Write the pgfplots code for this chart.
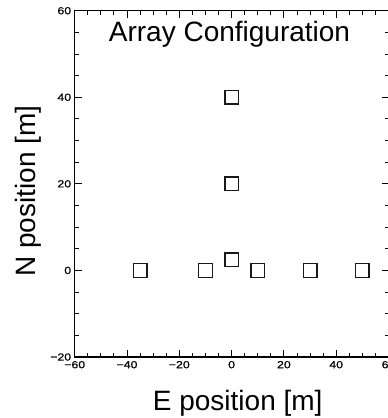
\documentclass[border=0pt]{standalone}
\usepackage{fontspec}
\setmainfont{Liberation Sans}
\newfontfamily\tickfont[FakeStretch=1.2, FakeBold=0.6]{Liberation Sans}
\usepackage{pgfplots}
\pgfplotsset{compat=1.18}
\begin{document}
\begin{tikzpicture}
\begin{axis}[
  name=ax,
  at={(0,0)}, anchor=south west,
  scale only axis,
  width=313.8pt, height=346.3pt,
  xmin=-60, xmax=60, ymin=-20, ymax=60,
  xtick={-60,-40,-20,0,20,40,60},
  xticklabels={−60,−40,−20,0,20,40,60},
  ytick={-20,0,20,40,60},
  yticklabels={−20,0,20,40,60},
  minor x tick num=3, minor y tick num=3,
  tick align=inside,
  major tick length=7pt, minor tick length=4pt,
  every tick/.style={black, line width=0.9pt},
  axis line style={black, line width=1.3pt},
  ticklabel style={font=\tickfont\fontsize{10.3}{11}\selectfont, black},
  xticklabel style={yshift=-0.5pt},
  xlabel={E position [m]},
  ylabel={N position [m]},
  label style={font=\fontsize{28}{30}\selectfont, black},
  xlabel style={at={(axis description cs:0.5195,-0.155)}, anchor=base, inner sep=0pt},
  ylabel style={at={(axis description cs:-0.1265,0.479)}, anchor=base, inner sep=0pt},
  clip=false,
]
\addplot[only marks, mark=square, mark size=6.8pt, mark options={line width=1.4pt, draw=black!90}]
  coordinates {(-35,0) (-10,0) (0,2.5) (10,0) (30,0) (50,0) (0,20) (0,40)};
\node[font=\fontsize{28}{30}\selectfont, anchor=base, inner sep=0pt] at (axis description cs:0.4933,0.9105) {Array Configuration};
\end{axis}
\pgfresetboundingbox
\useasboundingbox ([shift={(-74.7pt,-61pt)}]ax.south west) rectangle ([shift={(312.3pt,10.7pt)}]ax.north west);
\end{tikzpicture}
\end{document}
